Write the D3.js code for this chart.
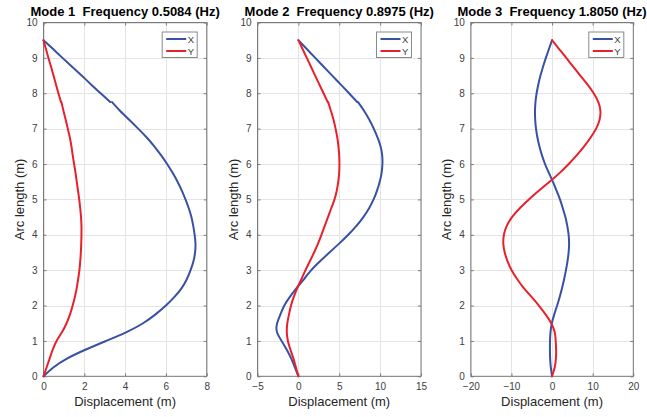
<!DOCTYPE html>
<html><head><meta charset="utf-8">
<script src="https://cdn.jsdelivr.net/npm/d3@7"></script>
<style>body{margin:0;background:#fff}svg{display:block}text{font-family:"Liberation Sans",Arial,sans-serif}</style>
</head><body><svg id="c" width="647" height="417"></svg>
<script>
// Arc length sample positions (m)
const arcLower = [0,0.25,0.5,0.75,1,1.25,1.5,1.75,2,2.25,2.5,2.75,3,3.25,3.5,3.75,4,4.25,4.5,4.75,5,5.25,5.5,5.75,6,6.25,6.5,6.75,7,7.25,7.5,7.75];
const arcUpper = [7.75,8,8.25,8.5,8.75,9,9.25,9.5];
const arcFull  = [0,0.25,0.5,0.75,1,1.25,1.5,1.75,2,2.25,2.5,2.75,3,3.25,3.5,3.75,4,4.25,4.5,4.75,5,5.25,5.5,5.75,6,6.25,6.5,6.75,7,7.25,7.5,7.75,8,8.25,8.5,8.75,9,9.25,9.5];

// Mode 1 (kink at ~7.75 m)
const mode1XLower = [0,0.48,1.15,2.05,3.07,4.07,4.88,5.49,6.0,6.43,6.78,7.03,7.21,7.35,7.43,7.45,7.41,7.34,7.25,7.12,6.96,6.78,6.57,6.33,6.06,5.76,5.43,5.06,4.64,4.2,3.76,3.36];
const mode1XUpper = [3.27,2.8,2.33,1.87,1.4,0.93,0.47,0];
const mode1YLower = [0,0.15,0.3,0.45,0.64,0.91,1.13,1.3,1.43,1.54,1.63,1.7,1.76,1.8,1.83,1.85,1.86,1.86,1.84,1.8,1.75,1.69,1.63,1.57,1.5,1.43,1.37,1.29,1.19,1.09,0.98,0.88];
const mode1YUpper = [0.86,0.73,0.61,0.49,0.37,0.24,0.12,0];
// Mode 2 (kink at ~7.75 m)
const mode2XLower = [0,-0.43,-0.87,-1.42,-2.05,-2.62,-2.6,-2.2,-1.72,-1.02,-0.2,0.7,1.58,2.65,3.8,4.98,6.1,7.1,7.95,8.65,9.2,9.62,9.95,10.18,10.28,10.25,10.05,9.68,9.22,8.68,8.05,7.3];
const mode2XUpper = [7.2,6.2,5.17,4.14,3.1,2.07,1.03,0];
const mode2YLower = [0,-0.3,-0.6,-0.97,-1.28,-1.42,-1.35,-1.15,-0.9,-0.55,-0.12,0.38,0.87,1.4,1.92,2.4,2.82,3.22,3.62,4.02,4.42,4.7,4.88,4.99,5.02,4.99,4.9,4.76,4.55,4.3,3.98,3.65];
const mode2YUpper = [3.59,3.08,2.56,2.05,1.54,1.03,0.51,0];
// Mode 3 (smooth)
const mode3X = [0,-0.3,-0.47,-0.52,-0.5,-0.38,-0.05,0.55,1.25,1.9,2.48,2.98,3.42,3.8,4.08,4.2,4.08,3.75,3.28,2.65,1.95,1.1,0.2,-0.78,-1.72,-2.5,-3.12,-3.6,-3.95,-4.15,-4.2,-4.08,-3.8,-3.38,-2.85,-2.22,-1.52,-0.77,0];
const mode3Y = [0,0.65,0.95,1.0,0.9,0.65,-0.2,-1.6,-3.25,-5.1,-7.0,-8.6,-9.95,-10.95,-11.65,-12.0,-11.85,-11.15,-9.85,-7.95,-5.7,-3.2,-0.6,1.9,4.1,6.1,7.9,9.5,10.85,11.7,11.9,11.4,10.25,8.7,6.95,5.2,3.5,1.75,0];

const titles = ["Mode 1  Frequency 0.5084 (Hz)","Mode 2  Frequency 0.8975 (Hz)","Mode 3  Frequency 1.8050 (Hz)"];
const xDomains = [[0,8],[-5,15],[-20,20]];
const xTicks = [[0,2,4,6,8],[-5,0,5,10,15],[-20,-10,0,10,20]];
const yTicks = [0,1,2,3,4,5,6,7,8,9,10];
const seriesNames = ["X","Y"];
// each series is a list of [arc, values] pieces
const modeSeries = [
  [[[arcLower,mode1XLower],[arcUpper,mode1XUpper]], [[arcLower,mode1YLower],[arcUpper,mode1YUpper]]],
  [[[arcLower,mode2XLower],[arcUpper,mode2XUpper]], [[arcLower,mode2YLower],[arcUpper,mode2YUpper]]],
  [[[arcFull,mode3X]], [[arcFull,mode3Y]]]
];

const colors = ["#3851a3","#e8202a"];
const lefts = [43.5,257.5,470.8], rights = [206.7,421,633.3];
const plotTop = 22.5, plotBottom = 376.3;
const svg = d3.select("#c");
const axisCol = "#7a7a7a", textCol = "#404040";

for (let p=0;p<3;p++){
  const x = d3.scaleLinear().domain(xDomains[p]).range([lefts[p],rights[p]]);
  const y = d3.scaleLinear().domain([0,10]).range([plotBottom,plotTop]);
  const g = svg.append("g");
  // grid
  g.selectAll(".gx").data(xTicks[p]).enter().append("line")
    .attr("x1",d=>Math.round(x(d))+0.5).attr("x2",d=>Math.round(x(d))+0.5)
    .attr("y1",plotTop).attr("y2",plotBottom).attr("stroke","#e4e4e4").attr("stroke-width",1);
  g.selectAll(".gy").data(yTicks).enter().append("line")
    .attr("y1",d=>Math.round(y(d))+0.5).attr("y2",d=>Math.round(y(d))+0.5)
    .attr("x1",lefts[p]).attr("x2",rights[p]).attr("stroke","#e4e4e4").attr("stroke-width",1);
  // axes via d3.axis (inward ticks)
  const ax = (gen, tr) => {
    const a = g.append("g").attr("transform",tr).call(gen);
    a.select(".domain").remove();
    a.selectAll("line").attr("stroke",axisCol);
    a.selectAll("text").attr("fill",textCol).style("font-size","10px").style("font-family","'Liberation Sans',Arial,sans-serif");
    return a;
  };
  ax(d3.axisBottom(x).tickValues(xTicks[p]).tickSizeInner(-3).tickSizeOuter(0).tickPadding(7), `translate(0,${plotBottom})`);
  ax(d3.axisTop(x).tickValues(xTicks[p]).tickSizeInner(-3).tickSizeOuter(0).tickFormat(""), `translate(0,${plotTop})`);
  ax(d3.axisLeft(y).tickValues(yTicks).tickSizeInner(-3).tickSizeOuter(0).tickPadding(6), `translate(${lefts[p]},0)`);
  ax(d3.axisRight(y).tickValues(yTicks).tickSizeInner(-3).tickSizeOuter(0).tickFormat(""), `translate(${rights[p]},0)`);
  // box
  g.append("rect").attr("x",lefts[p]).attr("y",plotTop).attr("width",rights[p]-lefts[p]).attr("height",plotBottom-plotTop)
    .attr("fill","none").attr("stroke",axisCol).attr("stroke-width",1);
  // lines: smooth natural spline through each piece
  const line = d3.line().x(d=>x(d[0])).y(d=>y(d[1])).curve(d3.curveNatural);
  modeSeries[p].forEach((pieces,i)=>{
    pieces.forEach(([arcs,vals])=>{
      g.append("path").datum(vals.map((v,k)=>[v,arcs[k]])).attr("d",line)
        .attr("fill","none").attr("stroke",colors[i]).attr("stroke-width",2)
        .attr("stroke-linejoin","round").attr("stroke-linecap","round");
    });
  });
  // title
  g.append("text").attr("x",(lefts[p]+rights[p])/2).attr("y",16).attr("text-anchor","middle")
    .style("font-size","13px").style("font-weight","bold").style("white-space","pre").attr("fill","#000").text(titles[p]);
  // x label
  g.append("text").attr("x",(lefts[p]+rights[p])/2).attr("y",405.5).attr("text-anchor","middle")
    .style("font-size","13px").attr("fill","#262626").text("Displacement (m)");
  // y label
  g.append("text").attr("transform",`translate(${lefts[p]-20},${(plotTop+plotBottom)/2}) rotate(-90)`).attr("text-anchor","middle")
    .style("font-size","13px").attr("fill","#262626").text("Arc length (m)");
  // legend
  const lx = rights[p]-9.5-35, ly = 32;
  const lg = g.append("g");
  lg.append("rect").attr("x",lx).attr("y",ly).attr("width",35).attr("height",25.5)
    .attr("fill","#fff").attr("stroke","#8a8a8a").attr("stroke-width",1);
  seriesNames.forEach((n,i)=>{
    const yy = ly+7+i*12;
    lg.append("line").attr("x1",lx+4).attr("x2",lx+24).attr("y1",yy).attr("y2",yy)
      .attr("stroke",colors[i]).attr("stroke-width",2);
    lg.append("text").attr("x",lx+25.5).attr("y",yy+3.5).style("font-size","9.5px").attr("fill",textCol).text(n);
  });
}
</script></body></html>
